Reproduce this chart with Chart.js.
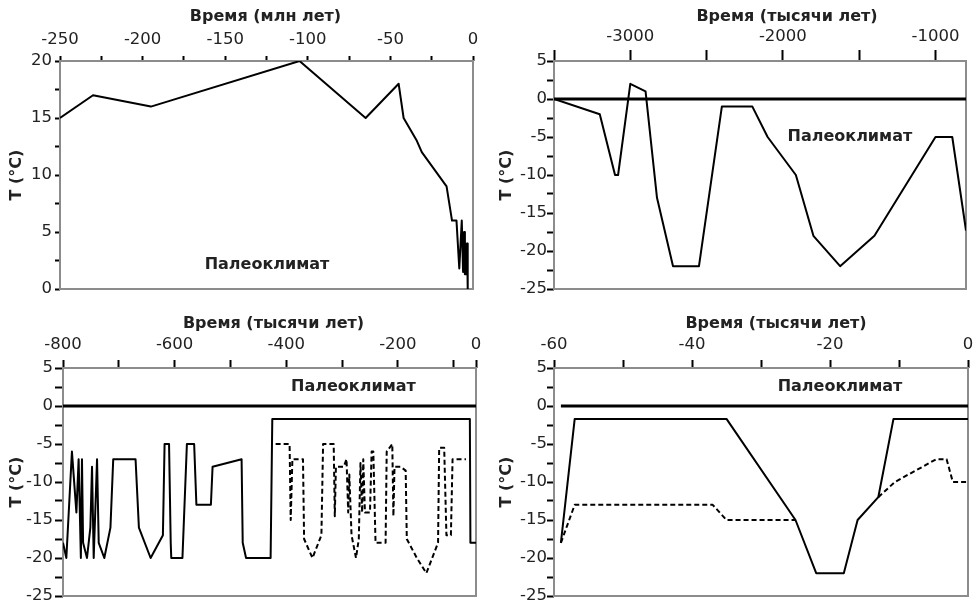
<!DOCTYPE html>
<html><head><meta charset="utf-8">
<script src="https://cdn.jsdelivr.net/npm/chart.js@4.4.1/dist/chart.umd.min.js"></script>
<style>
html,body{margin:0;padding:0;background:#fff;width:974px;height:603px;overflow:hidden;position:relative;}
canvas{position:absolute;}
</style></head><body>
<canvas id="c1" width="487" height="300" style="left:0;top:0;width:487px;height:300px"></canvas>
<canvas id="c2" width="484" height="300" style="left:490px;top:0;width:484px;height:300px"></canvas>
<canvas id="c3" width="490" height="303" style="left:0;top:300px;width:490px;height:303px"></canvas>
<canvas id="c4" width="484" height="303" style="left:490px;top:300px;width:484px;height:303px"></canvas>
<script>
// ---------- Panel 1: millions of years ----------
const p1Time = [-250,-230,-195,-105,-65,-45,-42,-34,-31,-16,-12.7,-10,-8.3,-6.8,-6,-5.4,-4.9,-4.5,-4,-3.6,-3.2];
const p1Temp = [15,17,16,20,15,18,15,13,12,9,6,6,1.8,6,1.5,5,1.3,4,1.3,4,0];
const p1XTicks = [-250,-225,-200,-175,-150,-125,-100,-75,-50,-25,0];
const p1XLabels = ['-250','','-200','','-150','','-100','','-50','','0'];
const p1YTicks = [0,2.5,5,7.5,10,12.5,15,17.5,20];
const p1YLabels = ['0','','5','','10','','15','','20'];

// ---------- Panel 2: thousands of years (-3500..-800) ----------
const p2Time = [-3500,-3200,-3100,-3080,-3000,-2900,-2825,-2720,-2550,-2400,-2200,-2100,-1915,-1800,-1625,-1400,-1000,-890,-800];
const p2Temp = [0,-2,-10,-10,2,1,-13,-22,-22,-1,-1,-5,-10,-18,-22,-18,-5,-5,-17.3];
const p2ZeroTime = [-3500,-800];
const p2ZeroTemp = [0,0];
const p2XTicks = [-3500,-3000,-2500,-2000,-1500,-1000];
const p2XLabels = ['','-3000','','-2000','','-1000'];

// ---------- Panel 3: thousands of years (-800..-60) ----------
const p3SolidTime = [-800,-794,-784,-776,-772,-768,-766,-764,-757,-751,-748,-745,-739,-736,-726,-715,-710,-670,-664,-643,-621,-618,-610,-607,-606,-586,-578,-565,-561,-535,-532,-480,-478,-472,-428,-425,-71,-70,-60];
const p3SolidTemp = [-18,-20,-6,-14,-7,-20,-7,-18,-20,-16,-8,-20,-7,-18,-20,-16,-7,-7,-16,-20,-17,-5,-5,-18,-20,-20,-5,-5,-13,-13,-8,-7,-18,-20,-20,-1.7,-1.7,-18,-18];
const p3DashTime = [-419,-394,-392,-389,-370,-368,-353,-337,-334,-327,-315,-313,-311,-297,-292,-289,-287,-283,-275,-270,-267,-264,-262,-259,-250,-247,-244,-240,-222,-220,-210,-208,-206,-195,-186,-184,-166,-149,-128,-126,-117,-113,-105,-102,-90,-78];
const p3DashTemp = [-5,-5,-15,-7,-7,-17.5,-20,-17,-5,-5,-5,-14.5,-8,-8,-7,-14,-9,-17,-20,-17.5,-7.5,-14,-7,-14,-14,-6,-6,-18,-18,-6,-5,-14.5,-8,-8,-8.5,-17.5,-20,-22,-18,-5.5,-5.5,-17,-17,-7,-7,-7];
const p3ZeroTime = [-800,-60];
const p3ZeroTemp = [0,0];
const p3XTicks = [-800,-700,-600,-500,-400,-300,-200,-100,-60];
const p3XLabels = ['-800','','-600','','-400','','-200','','0'];

// ---------- Panel 4: thousands of years (-60..0) ----------
const p4SolidTime = [-59,-57,-35,-25,-22,-18,-16,-13,-10.8,0];
const p4SolidTemp = [-18,-1.7,-1.7,-15,-22,-22,-15,-12,-1.7,-1.7];
const p4DashTime = [-59,-57,-37,-35,-25,-19,-13,-10.6,-4.6,-3.1,-2.2,0];
const p4DashTemp = [-18,-13,-13,-15,-15,null,-12,-10,-7,-7,-10,-10];
const p4ZeroTime = [-59,0];
const p4ZeroTemp = [0,0];
const p4XTicks = [-60,-50,-40,-30,-20,-10,0];
const p4XLabels = ['-60','','-40','','-20','','0'];

// shared temperature axis for panels 2-4
const tYTicks = [-25,-22.5,-20,-17.5,-15,-12.5,-10,-7.5,-5,-2.5,0,2.5,5];
const tYLabels = ['-25','','-20','','-15','','-10','','-5','','0','','5'];

const xTitleMy = 'Время (млн лет)';
const xTitleKy = 'Время (тысячи лет)';
const yTitle = 'T (°C)';
const noteText = 'Палеоклимат';

// ---------- helpers ----------
const FONT = "'DejaVu Sans', 'Liberation Sans', Arial, sans-serif";
const TICK_SIZE = 16.5;
const BOLD_SIZE = 16;
const INK = '#222';
function pts(xs, ys) { return xs.map((x, i) => ({x: x, y: ys[i]})); }

function lineDs(xs, ys, kind) {
  return {
    data: pts(xs, ys),
    showLine: true,
    borderColor: '#000',
    borderWidth: kind === 'zero' ? 3 : 2,
    borderDash: kind === 'dash' ? [5, 3] : [],
    borderJoinStyle: 'round',
    pointRadius: 0,
    pointHoverRadius: 0,
    fill: false,
    tension: 0,
    spanGaps: false
  };
}

const framePlugin = {
  id: 'frame',
  beforeDatasetsDraw(chart) {
    const {ctx, chartArea: a} = chart;
    ctx.save();
    ctx.strokeStyle = '#8c8c8c';
    ctx.lineWidth = 2;
    ctx.strokeRect(a.left, a.top, a.right - a.left, a.bottom - a.top);
    ctx.restore();
  }
};

const textPlugin = {
  id: 'panelText',
  afterDraw(chart, args, o) {
    const {ctx, chartArea: a, scales} = chart;
    ctx.save();
    ctx.fillStyle = INK;
    ctx.font = 'bold ' + BOLD_SIZE + 'px ' + FONT;
    ctx.textAlign = 'center';
    ctx.textBaseline = 'middle';
    ctx.fillText(o.title, (a.left + a.right) / 2 + o.titleDx, a.top - o.titleRise);
    ctx.fillText(o.note, scales.x.getPixelForValue(o.noteX), scales.y.getPixelForValue(o.noteY));
    ctx.restore();
  }
};

function makeChart(id, cfg) {
  const xs = cfg.x, ys = cfg.y;
  new Chart(document.getElementById(id), {
    type: 'scatter',
    data: {datasets: cfg.datasets},
    plugins: [framePlugin, textPlugin],
    options: {
      responsive: false,
      animation: false,
      devicePixelRatio: 1,
      layout: {padding: cfg.padding},
      plugins: {
        legend: {display: false},
        tooltip: {enabled: false},
        panelText: cfg.text
      },
      scales: {
        x: {
          type: 'linear', position: 'top', min: xs.min, max: xs.max,
          afterBuildTicks: s => { s.ticks = xs.ticks.map(v => ({value: v})); },
          afterFit: s => { s.height = xs.size; s.paddingLeft = s.paddingRight = s.paddingTop = s.paddingBottom = 0; },
          ticks: {autoSkip: false, maxRotation: 0, minRotation: 0, padding: xs.pad,
                  font: {family: FONT, size: TICK_SIZE}, color: INK,
                  callback: (v, i) => xs.labels[i]},
          grid: {display: true, drawOnChartArea: false, drawTicks: true, tickLength: xs.tl,
                 tickColor: '#000', tickWidth: 2, color: '#000'},
          border: {display: false},
          title: {display: false}
        },
        y: {
          type: 'linear', position: 'left', min: ys.min, max: ys.max,
          afterBuildTicks: s => { s.ticks = ys.ticks.map(v => ({value: v})); },
          afterFit: s => { s.width = ys.size; s.paddingLeft = s.paddingRight = s.paddingTop = s.paddingBottom = 0; },
          ticks: {autoSkip: false, padding: ys.pad, font: {family: FONT, size: TICK_SIZE}, color: INK,
                  callback: (v, i) => ys.labels[i]},
          grid: {display: true, drawOnChartArea: false, drawTicks: true, tickLength: ys.tl,
                 tickColor: '#000', tickWidth: 2, color: '#000'},
          border: {display: false},
          title: {display: true, text: yTitle, color: INK,
                  font: {family: FONT, size: BOLD_SIZE, weight: 'bold'}, padding: {top: 7, bottom: 0}}
        }
      }
    }
  });
}

makeChart('c1', {
  datasets: [lineDs(p1Time, p1Temp, 'solid')],
  padding: {left: 0, top: 0, right: 14, bottom: 11},
  x: {min: -250, max: 0, ticks: p1XTicks, labels: p1XLabels, size: 61, tl: 5, pad: 6},
  y: {min: 0, max: 20, ticks: p1YTicks, labels: p1YLabels, size: 60, tl: 5, pad: 3},
  text: {title: xTitleMy, titleDx: -1, titleRise: 44, note: noteText, noteX: -124.7, noteY: 2.1}
});

makeChart('c2', {
  datasets: [lineDs(p2ZeroTime, p2ZeroTemp, 'zero'), lineDs(p2Time, p2Temp, 'solid')],
  padding: {left: 0, top: 0, right: 8, bottom: 11},
  x: {min: -3500, max: -800, ticks: p2XTicks, labels: p2XLabels, size: 61, tl: 11, pad: 3},
  y: {min: -25, max: 5, ticks: tYTicks, labels: tYLabels, size: 64, tl: 7, pad: 0},
  text: {title: xTitleKy, titleDx: 27, titleRise: 44, note: noteText, noteX: -1561, noteY: -5}
});

makeChart('c3', {
  datasets: [lineDs(p3ZeroTime, p3ZeroTemp, 'zero'), lineDs(p3SolidTime, p3SolidTemp, 'solid'), lineDs(p3DashTime, p3DashTemp, 'dash')],
  padding: {left: 0, top: 0, right: 14, bottom: 7},
  x: {min: -800, max: -60, ticks: p3XTicks, labels: p3XLabels, size: 68, tl: 8, pad: 5},
  y: {min: -25, max: 5, ticks: tYTicks, labels: tYLabels, size: 63, tl: 8, pad: 2},
  text: {title: xTitleKy, titleDx: 4, titleRise: 44, note: noteText, noteX: -279.6, noteY: 2.55}
});

makeChart('c4', {
  datasets: [lineDs(p4ZeroTime, p4ZeroTemp, 'zero'), lineDs(p4SolidTime, p4SolidTemp, 'solid'), lineDs(p4DashTime, p4DashTemp, 'dash')],
  padding: {left: 0, top: 0, right: 6, bottom: 7},
  x: {min: -60, max: 0, ticks: p4XTicks, labels: p4XLabels, size: 68, tl: 8, pad: 5},
  y: {min: -25, max: 5, ticks: tYTicks, labels: tYLabels, size: 64, tl: 7, pad: 0},
  text: {title: xTitleKy, titleDx: 15, titleRise: 44, note: noteText, noteX: -18.55, noteY: 2.55}
});
</script>
</body></html>
